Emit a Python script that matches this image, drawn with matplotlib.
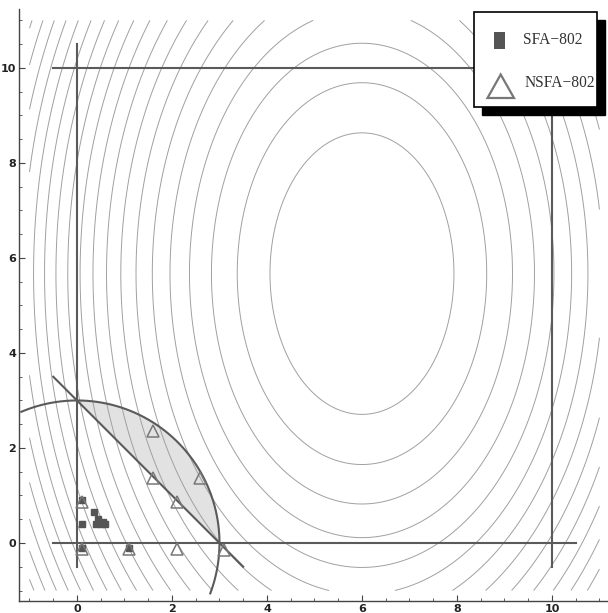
import numpy as np
import matplotlib
matplotlib.use("Agg")
import matplotlib.pyplot as plt
from matplotlib.patches import Rectangle, Polygon

# objective contours: ellipses round (6, 5.67)
center_x, center_y = 6.0, 5.67
y_stretch = 1.53
levels = 3.75 + 3.147 * np.arange(0, 22)

# constraint box and lines
box_lo, box_hi = 0, 10
line_start = (-0.5, 3.5)
line_end = (3.5, -0.5)
radius = 3.0
arc_from, arc_to = -20.7, 113.0

# data points
sfa_x = [0.1, 0.1, 0.35, 0.4, 0.45, 0.5, 0.55, 0.6, 0.1, 1.1]
sfa_y = [0.9, 0.4, 0.65, 0.4, 0.5, 0.4, 0.45, 0.4, -0.1, -0.1]
nsfa_x = [0.1, 1.6, 1.6, 2.6, 2.1, 0.1, 1.1, 2.1, 3.1]
nsfa_y = [0.87, 2.36, 1.36, 1.36, 0.86, -0.13, -0.13, -0.13, -0.15]

W, H = 608, 613
fig = plt.figure(figsize=(W / 100, H / 100), dpi=100)
ax = fig.add_axes([19 / W, 12 / H, 589 / W, 592 / H])
ax.set_xlim(-1.221, 11.18)
ax.set_ylim(-1.221, 11.24)

line_col = "#5a5a5a"

# shaded feasible region between the chord and the arc
t = np.linspace(0, np.pi / 2, 100)
ax.fill(radius * np.cos(t), radius * np.sin(t), color="#e2e2e2", lw=0, zorder=1)

# contours
gx = np.linspace(-1, 11, 500)
gy = np.linspace(-1, 11, 500)
X, Y = np.meshgrid(gx, gy)
Z = (X - center_x) ** 2 + ((Y - center_y) / y_stretch) ** 2
ax.contour(X, Y, Z, levels=levels, colors="#a0a0a0", linewidths=0.7, zorder=2)

# box lines
ext = 0.5
ax.plot([box_lo, box_lo], [box_lo - ext, box_hi + ext], color=line_col, lw=1.5, zorder=3)
ax.plot([box_hi, box_hi], [box_lo - ext, box_hi + ext], color=line_col, lw=1.5, zorder=3)
ax.plot([box_lo - ext, box_hi + ext], [box_lo, box_lo], color=line_col, lw=1.5, zorder=3)
ax.plot([box_lo - ext, box_hi + ext], [box_hi, box_hi], color=line_col, lw=1.5, zorder=3)

# chord and circle arc
ax.plot([line_start[0], line_end[0]], [line_start[1], line_end[1]], color=line_col, lw=1.5, zorder=3)
a = np.radians(np.linspace(arc_from, arc_to, 200))
ax.plot(radius * np.cos(a), radius * np.sin(a), color=line_col, lw=1.5, zorder=3)

# markers
ax.plot(sfa_x, sfa_y, "s", ms=5, color="#555555", mec="#555555", zorder=4)
ax.plot(nsfa_x, nsfa_y, "^", ms=8.5, mfc="none", mec="#777777", mew=1.1, zorder=5)

# axes styling
for s in ["top", "right"]:
    ax.spines[s].set_visible(False)
for s in ["left", "bottom"]:
    ax.spines[s].set_color("#444444")
    ax.spines[s].set_linewidth(1.0)
ax.set_xticks([0, 2, 4, 6, 8, 10])
ax.set_yticks([0, 2, 4, 6, 8, 10])
ax.set_xticks(np.arange(-1, 11.5, 0.5), minor=True)
ax.set_yticks(np.arange(-1, 11.5, 0.5), minor=True)
ax.tick_params(which="major", direction="in", length=4, width=0.8, color="#444444",
               labelsize=8, pad=2, labelcolor="#222222")
ax.tick_params(which="minor", direction="in", length=2, width=0.6, color="#444444")
for lab in ax.get_xticklabels() + ax.get_yticklabels():
    lab.set_fontweight("bold")

# legend drawn in pixel coordinates
def fx(px):
    return px / W

def fy(py):
    return 1 - py / H

fig.add_artist(Rectangle((fx(482), fy(115)), 123 / W, 95 / H, transform=fig.transFigure,
                         facecolor="black", edgecolor="black", zorder=10))
fig.add_artist(Rectangle((fx(474), fy(107)), 123 / W, 95 / H, transform=fig.transFigure,
                         facecolor="white", edgecolor="black", lw=1.2, zorder=11))
fig.add_artist(Rectangle((fx(493.5), fy(48.5)), 11.5 / W, 17 / H, transform=fig.transFigure,
                         facecolor="#555555", edgecolor="none", zorder=12))
fig.add_artist(Polygon([(fx(487.5), fy(98)), (fx(514), fy(98)), (fx(500.7), fy(74.5))],
                       closed=True, transform=fig.transFigure, facecolor="white",
                       edgecolor="#777777", lw=1.6, zorder=12))
fig.text(fx(523), fy(44), "SFA\u2212802", family="Liberation Serif", fontsize=11.2,
         va="baseline", ha="left", color="#333333", zorder=13)
fig.text(fx(524.5), fy(87.3), "NSFA\u2212802", family="Liberation Serif", fontsize=11.2,
         va="baseline", ha="left", color="#333333", zorder=13)

fig.savefig("out.png", dpi=100)
